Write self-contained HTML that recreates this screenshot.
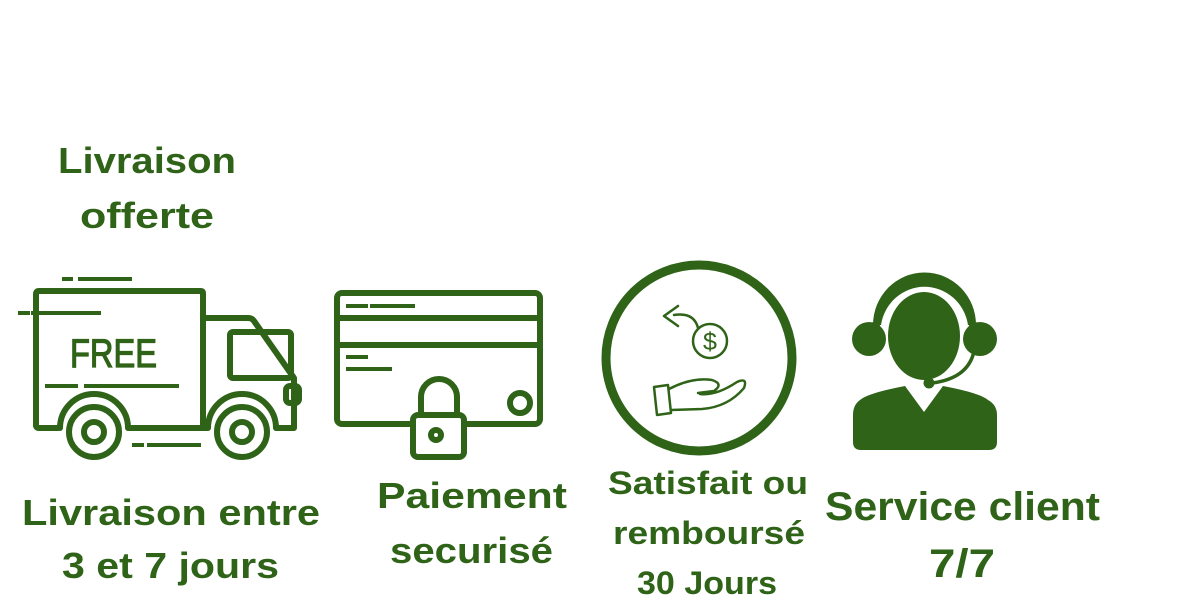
<!DOCTYPE html>
<html><head><meta charset="utf-8"><style>
html,body{margin:0;padding:0;background:#fff;}
svg{display:block;}
text{font-family:"Liberation Sans",sans-serif;font-weight:bold;fill:#2e6318;}
</style></head><body>
<svg width="1200" height="614" viewBox="0 0 1200 614" xmlns="http://www.w3.org/2000/svg">
<g fill="none" stroke="#2e6318" stroke-width="6" stroke-linecap="round" stroke-linejoin="round">
<!-- truck -->
<path d="M203 428 V293 Q203 291 201 291 H39 Q36 291 36 294 V425 Q36 428 39 428 H58"/>
<path d="M60 428 A34 34 0 0 1 128 428 H203"/>
<path d="M203 428 H208 A34 34 0 0 1 276 428 H294 V378 L254 321 Q252 318 248 318 H203"/>
<rect x="230" y="332" width="61" height="46" rx="3"/>
<rect x="286" y="386" width="13" height="17" rx="4"/>
<circle cx="94" cy="432" r="25" fill="#fff"/><circle cx="94" cy="432" r="10"/>
<circle cx="242" cy="432" r="25" fill="#fff"/><circle cx="242" cy="432" r="10"/>
<!-- card -->
<rect x="337" y="293" width="203" height="131" rx="5"/>
<line x1="337" y1="318" x2="540" y2="318"/>
<line x1="337" y1="345" x2="540" y2="345"/>
<ellipse cx="520" cy="403" rx="10" ry="10"/>
<path d="M421 415 V397 A18 18 0 0 1 457 397 V415" fill="#fff"/>
<rect x="413" y="415" width="51" height="42" rx="5" fill="#fff"/>
<circle cx="436" cy="435" r="5"/>
<!-- circle -->
<circle cx="699" cy="358" r="93" stroke-width="9"/>
</g>
<g stroke="#2e6318" stroke-width="4" stroke-linecap="square">
<line x1="64" y1="279" x2="71" y2="279"/><line x1="80" y1="279" x2="130" y2="279"/>
<line x1="20" y1="313" x2="28" y2="313"/><line x1="33" y1="313" x2="99" y2="313"/>
<line x1="47" y1="386" x2="76" y2="386"/><line x1="86" y1="386" x2="177" y2="386"/>
<line x1="134" y1="445" x2="142" y2="445"/><line x1="149" y1="445" x2="199" y2="445"/>
<line x1="348" y1="306" x2="366" y2="306"/><line x1="372" y1="306" x2="413" y2="306"/>
<line x1="348" y1="357" x2="366" y2="357"/><line x1="348" y1="369" x2="390" y2="369"/>
</g>
<text x="70" y="367" font-size="40" style="font-weight:normal" stroke="#2e6318" stroke-width="1.2" textLength="87" lengthAdjust="spacingAndGlyphs">FREE</text>
<!-- refund icon -->
<g fill="none" stroke="#2e6318" stroke-width="2.5" stroke-linecap="round" stroke-linejoin="round">
<circle cx="710" cy="341" r="17"/>
<path d="M698 328 Q694 312 674 315"/>
<path d="M678 306 L664 316 L678 326"/>
<path d="M654 387 L668 385 L671 413 L657 415 Z"/>
<path d="M669 389 Q692 377 712 380 Q724 384 714 391 L698 393 M700 394 Q716 396 737 382 Q748 377 744 388 Q728 407 702 409 L671 410"/>
</g>
<text x="710" y="350" font-size="25" text-anchor="middle" style="font-weight:normal">$</text>
<!-- person -->
<g fill="#2e6318">
<ellipse cx="924" cy="336" rx="36" ry="44"/>
<path d="M873 325 A51 52 0 0 1 976 325 L968 325 A44 45 0 0 0 881 325 Z"/>
<circle cx="869" cy="339" r="17"/>
<circle cx="980" cy="339" r="17"/>
<rect x="870" y="322" width="10" height="26" rx="4"/>
<rect x="969" y="322" width="10" height="26" rx="4"/>
<path d="M975 345 Q972 378 932 383" fill="none" stroke="#2e6318" stroke-width="3.5"/>
<circle cx="929" cy="383" r="5.5"/>
<path d="M860 400 Q868 393 905 386 L924 412 L943 386 Q980 393 988 400 Q997 405 997 415 V442 Q997 450 989 450 H861 Q853 450 853 442 V415 Q853 405 860 400 Z"/>
</g>
<!-- texts -->
<text x="58" y="173" font-size="36" textLength="178" lengthAdjust="spacingAndGlyphs">Livraison</text>
<text x="80" y="228" font-size="36" textLength="134" lengthAdjust="spacingAndGlyphs">offerte</text>
<text x="22" y="525" font-size="36" textLength="298" lengthAdjust="spacingAndGlyphs">Livraison entre</text>
<text x="62" y="578" font-size="36" textLength="217" lengthAdjust="spacingAndGlyphs">3 et 7 jours</text>
<text x="377" y="508" font-size="36" textLength="190" lengthAdjust="spacingAndGlyphs">Paiement</text>
<text x="390" y="563" font-size="36" textLength="163" lengthAdjust="spacingAndGlyphs">securisé</text>
<text x="608" y="494" font-size="32" textLength="200" lengthAdjust="spacingAndGlyphs">Satisfait ou</text>
<text x="613" y="544" font-size="32" textLength="192" lengthAdjust="spacingAndGlyphs">remboursé</text>
<text x="637" y="594" font-size="32" textLength="140" lengthAdjust="spacingAndGlyphs">30 Jours</text>
<text x="825" y="520" font-size="40" textLength="275" lengthAdjust="spacingAndGlyphs">Service client</text>
<text x="929" y="577" font-size="40" textLength="66" lengthAdjust="spacingAndGlyphs">7/7</text>
</svg>
</body></html>
